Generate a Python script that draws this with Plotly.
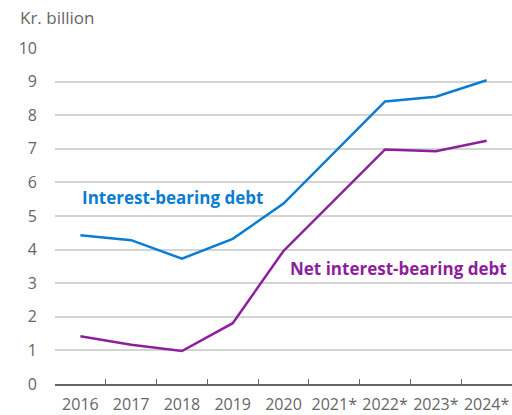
import plotly.graph_objects as go

years = ["2016", "2017", "2018", "2019", "2020", "2021*", "2022*", "2023*", "2024*"]
interest_bearing = [4.43, 4.28, 3.73, 4.32, 5.37, 6.89, 8.41, 8.55, 9.04]
net_interest_bearing = [1.42, 1.17, 0.98, 1.81, 3.96, 5.47, 6.98, 6.93, 7.24]
y_ticks = [0, 1, 2, 3, 4, 5, 6, 7, 8, 9, 10]

BLUE = "#0a7dd3"
PURPLE = "#8e1f9c"
GREY = "#666666"
FONT = "Open Sans"

fig = go.Figure()
fig.add_trace(go.Scatter(x=years, y=interest_bearing, mode="lines",
                         line=dict(color=BLUE, width=2.5), showlegend=False))
fig.add_trace(go.Scatter(x=years, y=net_interest_bearing, mode="lines",
                         line=dict(color=PURPLE, width=2.5), showlegend=False))

fig.add_annotation(x=-0.5 + 0.5, y=5.55, xref="x", yref="y", text="<b>Interest-bearing debt</b>",
                   showarrow=False, xanchor="left", yanchor="middle",
                   font=dict(family=FONT, size=17, color=BLUE))
fig.add_annotation(x=8.45, y=3.44, xref="x", yref="y", text="<b>Net interest-bearing debt</b>",
                   showarrow=False, xanchor="right", yanchor="middle",
                   font=dict(family=FONT, size=17, color=PURPLE))
fig.add_annotation(x=-35/457, y=1.09, xref="paper", yref="paper", text="Kr. billion",
                   showarrow=False, xanchor="left", yanchor="middle", xshift=-2,
                   font=dict(family=FONT, size=17, color=GREY))

fig.update_layout(
    width=512, height=415,
    margin=dict(l=55, r=0, t=48, b=31),
    paper_bgcolor="white", plot_bgcolor="white",
    font=dict(family=FONT, size=16, color=GREY),
    xaxis=dict(type="category", range=[-0.5, 8.5], showgrid=False,
               showline=True, linecolor=GREY, linewidth=1.5,
               ticks="inside", tickson="boundaries", ticklen=5, tickcolor=GREY,
               tickangle=0, automargin=False, ticklabelstandoff=5,
               tickfont=dict(family=FONT, size=16, color=GREY), fixedrange=True),
    yaxis=dict(range=[0, 10], tickvals=y_ticks, showgrid=True, gridcolor="#d4d4d4",
               gridwidth=1.5, zeroline=False, showline=False, ticks="",
               ticklabelstandoff=17, automargin=False,
               tickfont=dict(family=FONT, size=16, color=GREY), fixedrange=True),
)

fig.write_html("out.html", config={"displayModeBar": False},
               post_script="document.body.style.margin='0';document.body.style.overflow='hidden';")
